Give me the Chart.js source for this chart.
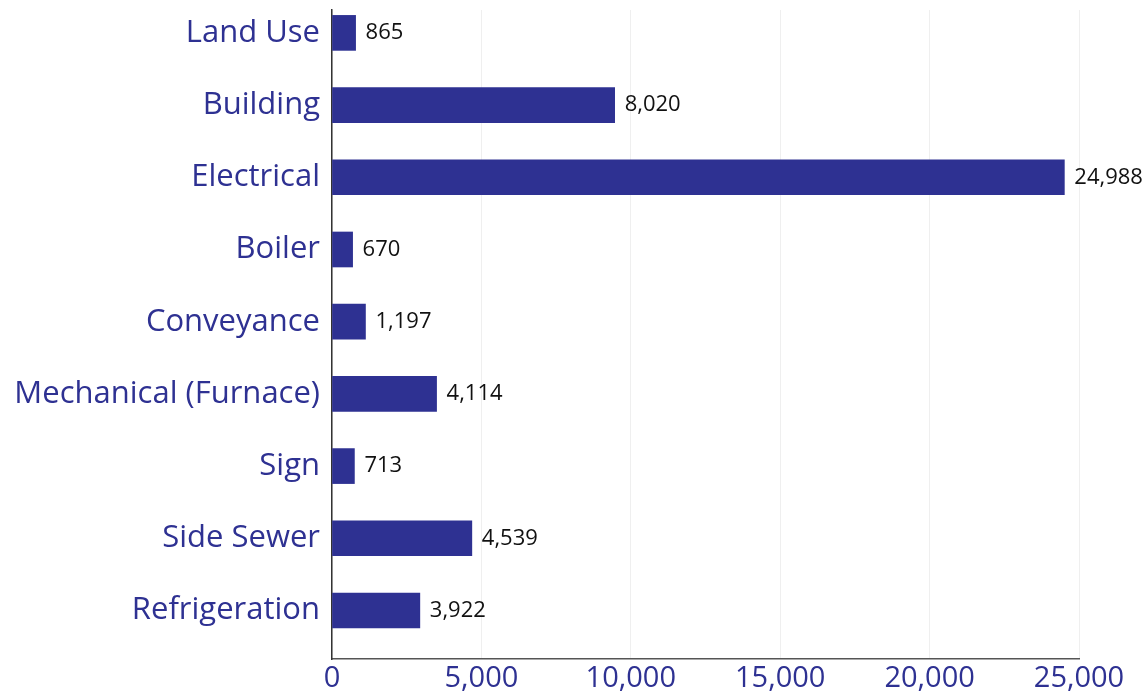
<!DOCTYPE html>
<html>
<head>
<meta charset="utf-8">
<script src="https://cdn.jsdelivr.net/npm/chart.js@4.4.1/dist/chart.umd.min.js"></script>
<style>
  html, body { margin: 0; padding: 0; background: #fff; }
</style>
</head>
<body>
<canvas id="myChart" width="1146" height="696"></canvas>
<script>
// kategorie (shora dolů)
var categories = ['Land Use', 'Building', 'Electrical', 'Boiler', 'Conveyance',
                  'Mechanical (Furnace)', 'Sign', 'Side Sewer', 'Refrigeration'];
// délky sloupců
var barValues = [790, 9460, 24510, 690, 1120, 3500, 750, 4680, 2940];
// čísla vypsaná vedle sloupců
var valueLabels = ['865', '8,020', '24,988', '670', '1,197', '4,114', '713', '4,539', '3,922'];
// popisky osy X
var xTicks = [0, 5000, 10000, 15000, 20000, 25000];

var navy = '#2E3192';

// vypsání hodnot vedle konce sloupce
var valueLabelPlugin = {
    id: 'valueLabels',
    afterDatasetsDraw: function(chart) {
        var ctx = chart.ctx;
        var meta = chart.getDatasetMeta(0);
        ctx.save();
        ctx.font = '22px "Open Sans"';
        ctx.fillStyle = '#111';
        ctx.textAlign = 'left';
        ctx.textBaseline = 'middle';
        meta.data.forEach(function(bar, i) {
            ctx.fillText(valueLabels[i], bar.x + 10, bar.y);
        });
        ctx.restore();
    }
};

var ctx = document.getElementById('myChart').getContext('2d');
var myChart = new Chart(ctx, {
    type: 'bar',
    data: {
        datasets: [{
            data: barValues.map(function(v, i) { return { x: v, y: i }; }),
            backgroundColor: navy,
            borderWidth: 0,
            barThickness: 35
        }]
    },
    options: {
        responsive: false,
        animation: false,
        indexAxis: 'y',
        layout: { padding: { top: 10, right: 67, bottom: 0, left: 0 } },
        plugins: {
            legend: { display: false },
            tooltip: { enabled: false }
        },
        scales: {
            x: {
                type: 'linear',
                min: 0,
                max: 25000,
                afterBuildTicks: function(scale) {
                    scale.ticks = xTicks.map(function(v) { return { value: v }; });
                },
                afterFit: function(scale) { scale.height = 37; },
                grid: { color: '#efefef', drawTicks: false },
                border: { color: '#555', width: 1.5 },
                ticks: {
                    padding: 2,
                    color: navy,
                    font: { family: 'Open Sans', size: 29 },
                    maxRotation: 0,
                    callback: function(value) { return value.toLocaleString('en-US'); }
                }
            },
            y: {
                type: 'linear',
                bounds: 'data',
                offset: false,
                reverse: true,
                min: -0.317,
                max: 8.672,
                afterBuildTicks: function(scale) {
                    scale.ticks = categories.map(function(c, i) { return { value: i }; });
                },
                afterFit: function(scale) {
                    scale.width = 332;
                    scale.paddingTop = 0;
                    scale.paddingBottom = 0;
                },
                grid: { display: false, drawTicks: false, offset: false },
                border: { color: '#333', width: 1.5 },
                ticks: {
                    padding: 12,
                    color: navy,
                    font: { family: 'Open Sans', size: 31 },
                    callback: function(value) { return categories[value]; }
                }
            }
        }
    },
    plugins: [valueLabelPlugin]
});
</script>
</body>
</html>
